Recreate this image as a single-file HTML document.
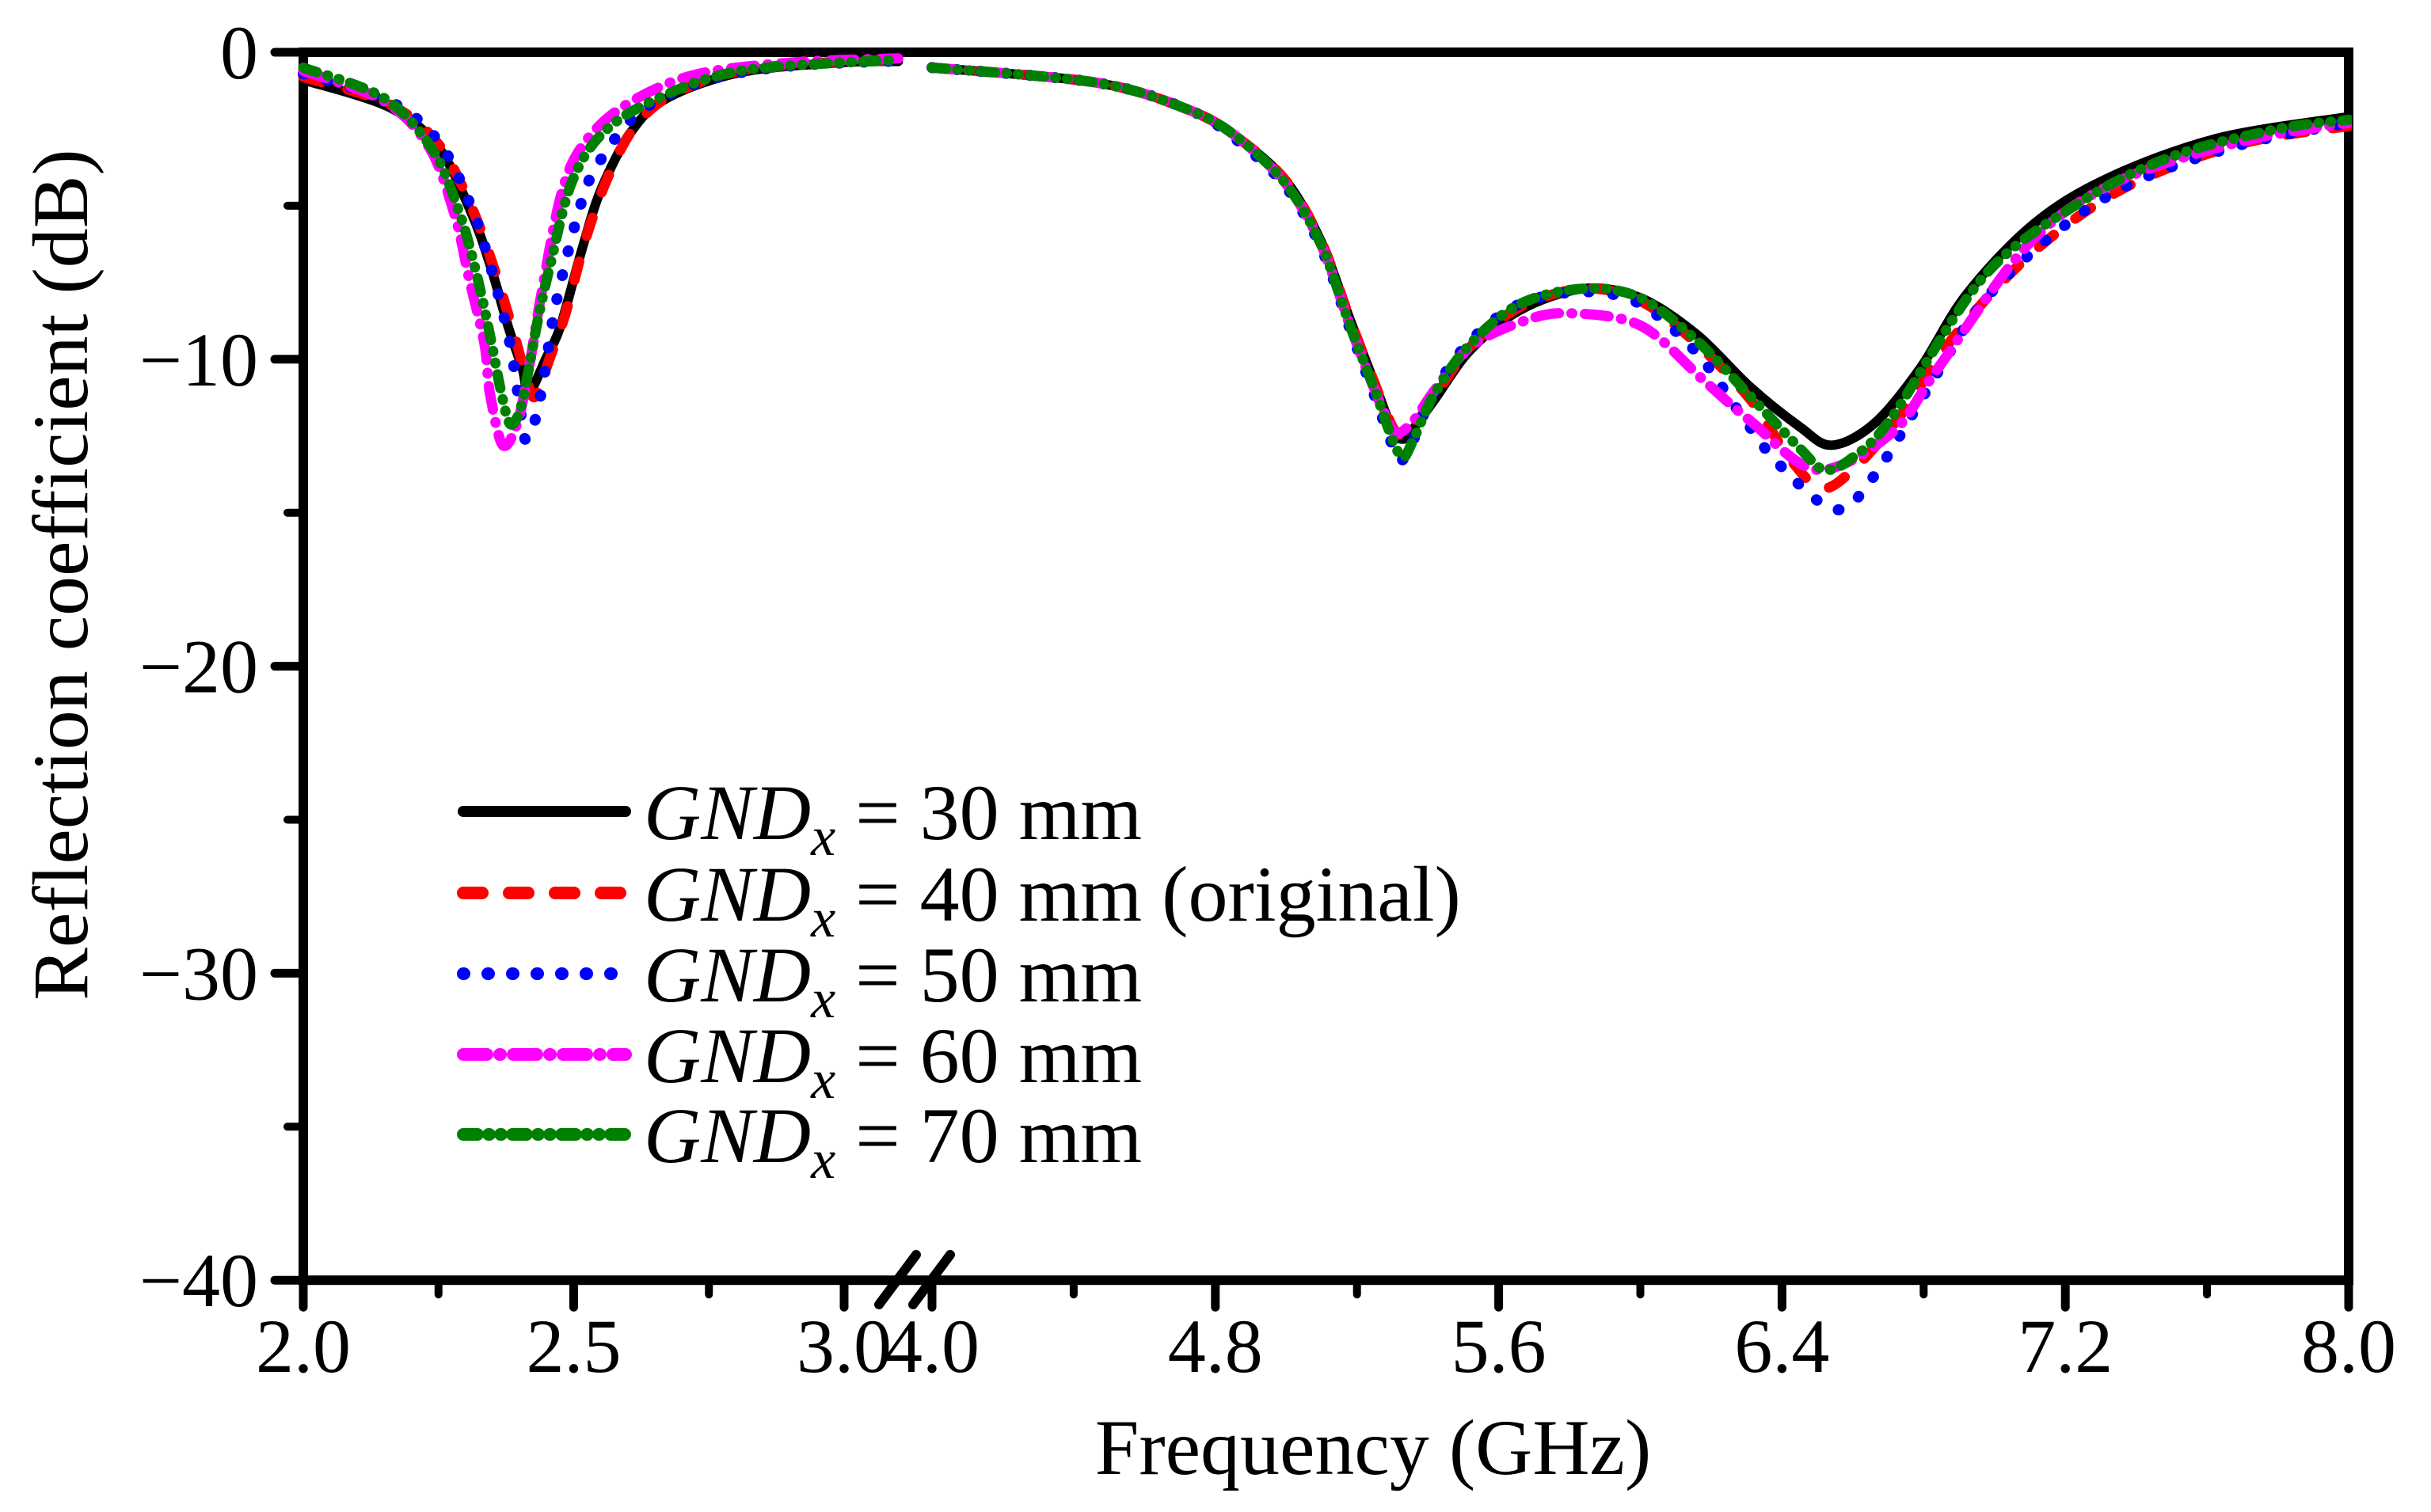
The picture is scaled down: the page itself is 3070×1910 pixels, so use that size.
<!DOCTYPE html>
<html><head><meta charset="utf-8"><style>
html,body{margin:0;padding:0;background:#fff;}
svg{display:block;font-family:"Liberation Serif","Times New Roman",serif;}
</style></head><body>
<svg id="chart" width="3070" height="1910" viewBox="0 0 3070 1910" xmlns="http://www.w3.org/2000/svg">
<defs><clipPath id="clipL"><rect x="370" y="40" width="775" height="1600"/></clipPath><clipPath id="clipR"><rect x="1170" y="40" width="1800" height="1600"/></clipPath></defs>
<g id="axes"></g>
<g id="series"></g>
<g id="legend"></g>
<text x="1734" y="1862" font-size="100" text-anchor="middle">Frequency (GHz)</text>
<text transform="translate(110,726) rotate(-90)" font-size="100" text-anchor="middle">Reflection coefficient (dB)</text>
</svg>
<script>
// x tick labels
const xTicksL = [2.0, 2.5, 3.0];
const xTicksR = [4.0, 4.8, 5.6, 6.4, 7.2, 8.0];
const xMinorL = [2.25, 2.75];
const xMinorR = [4.4, 5.2, 6.0, 6.8, 7.6];
const yTicks = [0, -10, -20, -30, -40];
const yMinor = [-5, -15, -25, -35];
const seriesNames = ["GND30", "GND40", "GND50", "GND60", "GND70"];
const legendLabels = ["30 mm", "40 mm (original)", "50 mm", "60 mm", "70 mm"];
// left segment (2.0–3.1 GHz)
const fL30 = [2.0,2.16,2.25,2.31,2.345,2.38,2.405,2.417,2.448,2.476,2.514,2.55,2.606,2.672,2.81,3.0,3.1];
const vL30 = [-0.9,-1.8,-3.1,-5.2,-6.9,-9.0,-10.3,-11.1,-10.0,-8.9,-6.5,-4.5,-2.6,-1.5,-0.65,-0.33,-0.3];
const fL40 = [2.0,2.16,2.25,2.31,2.35,2.39,2.415,2.43,2.455,2.485,2.52,2.56,2.61,2.68,2.81,3.0,3.1];
const vL40 = [-0.8,-1.7,-3.0,-5.0,-6.9,-9.2,-10.8,-11.2,-10.0,-8.5,-6.2,-4.2,-2.5,-1.4,-0.6,-0.3,-0.28];
const fL50 = [2.0,2.16,2.25,2.31,2.345,2.38,2.4,2.41,2.425,2.444,2.467,2.514,2.55,2.625,2.75,2.9,3.1];
const vL50 = [-0.7,-1.6,-2.9,-5.0,-6.9,-9.3,-11.5,-12.6,-12.2,-10.7,-8.2,-4.9,-3.5,-1.9,-0.9,-0.45,-0.28];
const fL60 = [2.0,2.15,2.233,2.28,2.307,2.335,2.345,2.369,2.397,2.42,2.44,2.476,2.514,2.589,2.72,2.906,3.1];
const vL60 = [-0.6,-1.6,-3.1,-5.3,-7.4,-9.5,-11.1,-12.8,-12.0,-10.0,-7.9,-4.7,-3.1,-1.8,-0.75,-0.33,-0.2];
const fL70 = [2.0,2.15,2.24,2.29,2.32,2.345,2.365,2.382,2.4,2.416,2.435,2.457,2.495,2.55,2.644,2.81,3.1];
const vL70 = [-0.5,-1.5,-3.2,-5.3,-7.2,-9.2,-11.0,-12.1,-11.7,-10.4,-8.6,-6.9,-4.3,-2.7,-1.6,-0.6,-0.25];
// right segment (4.0–8.0 GHz)
const fR30 = [4.0,4.47,4.73,4.865,5.0,5.1,5.18,5.25,5.3,5.325,5.35,5.42,5.52,5.66,5.84,6.0,6.16,6.31,6.45,6.54,6.66,6.79,6.92,7.11,7.32,7.63,8.0];
const vR30 = [-0.5,-1.0,-1.9,-2.8,-4.2,-6.2,-8.7,-10.8,-12.3,-12.6,-12.4,-11.3,-9.7,-8.4,-7.7,-8.0,-9.2,-10.9,-12.2,-12.8,-12.1,-10.3,-7.9,-5.6,-4.1,-2.8,-2.1];
const fR40 = [4.0,4.47,4.73,4.865,5.0,5.1,5.18,5.25,5.3,5.33,5.36,5.42,5.52,5.66,5.84,6.0,6.16,6.31,6.42,6.51,6.6,6.73,6.89,7.11,7.37,7.69,8.0];
const vR40 = [-0.5,-1.0,-1.9,-2.8,-4.2,-6.2,-8.7,-10.8,-12.2,-12.5,-12.2,-11.2,-9.6,-8.3,-7.7,-8.1,-9.5,-11.3,-13.2,-14.2,-13.6,-11.9,-9.2,-6.5,-4.4,-3.0,-2.4];
const fR50 = [4.0,4.47,4.73,4.865,5.0,5.1,5.18,5.25,5.3,5.325,5.36,5.42,5.52,5.66,5.84,6.0,6.16,6.29,6.39,6.55,6.66,6.82,6.97,7.18,7.4,7.7,8.0];
const vR50 = [-0.5,-1.0,-1.9,-2.9,-4.4,-6.4,-9.0,-11.2,-12.8,-13.3,-12.6,-11.0,-9.4,-8.2,-7.8,-8.2,-9.8,-11.9,-13.4,-14.9,-13.8,-10.8,-8.1,-5.8,-4.2,-3.0,-2.3];
const fR60 = [4.0,4.47,4.73,4.865,5.0,5.1,5.18,5.25,5.3,5.32,5.36,5.42,5.52,5.66,5.79,6.0,6.18,6.31,6.5,6.71,6.84,7.1,7.35,7.7,8.0];
const vR60 = [-0.5,-1.0,-1.9,-2.8,-4.3,-6.3,-8.9,-11.0,-12.3,-12.4,-12.0,-11.0,-9.6,-8.8,-8.5,-8.9,-10.7,-12.0,-13.6,-12.4,-10.3,-6.2,-4.2,-2.9,-2.3];
const fR70 = [4.0,4.47,4.73,4.865,5.0,5.1,5.18,5.25,5.3,5.33,5.36,5.42,5.52,5.66,5.84,6.0,6.16,6.31,6.45,6.52,6.6,6.71,6.97,7.24,7.5,7.8,8.0];
const vR70 = [-0.5,-1.0,-1.9,-2.8,-4.3,-6.3,-8.9,-11.0,-12.6,-13.2,-12.6,-11.1,-9.5,-8.2,-7.7,-8.0,-9.4,-11.2,-12.9,-13.6,-13.2,-11.9,-7.3,-4.9,-3.4,-2.5,-2.2];

const NS = "http://www.w3.org/2000/svg";
const X0 = 383, XL_PER = 683, XR0 = 1177, XR_PER = 447.25;
const Y0 = 66, Y_PER = 38.78;
function xs(f){ return f <= 3.5 ? X0 + (f - 2) * XL_PER : XR0 + (f - 4) * XR_PER; }
function ys(v){ return Y0 - v * Y_PER; }
function mk(tag, attrs, parent){ const e = document.createElementNS(NS, tag); for (const k in attrs) e.setAttribute(k, attrs[k]); parent.appendChild(e); return e; }

const axes = document.getElementById('axes');
const YB = ys(-40), XE = xs(8);
// ticks
[...xTicksL, ...xTicksR].forEach(t => {
  const l = mk('line', {x1: xs(t), x2: xs(t), y1: YB, y2: YB + 34, stroke: '#000', 'stroke-width': 11, 'stroke-linecap': 'round'}, axes);
  
  
  const tx = mk('text', {x: xs(t), y: 1733, 'font-size': 96, 'text-anchor': 'middle'}, axes);
  tx.textContent = t.toFixed(1);
  
  
});
[...xMinorL, ...xMinorR].forEach(t => {
  const l = mk('line', {x1: xs(t), x2: xs(t), y1: YB, y2: YB + 18, stroke: '#000', 'stroke-width': 10, 'stroke-linecap': 'round'}, axes);
  
  
});
yTicks.forEach(t => {
  const l = mk('line', {x1: X0 - 36, x2: X0, y1: ys(t), y2: ys(t), stroke: '#000', 'stroke-width': 11, 'stroke-linecap': 'round'}, axes);
  
  
  const tx = mk('text', {x: 326, y: ys(t) + 33, 'font-size': 96, 'text-anchor': 'end'}, axes);
  tx.textContent = t === 0 ? '0' : '\u2212' + Math.abs(t);
  
  
});
yMinor.forEach(t => {
  const l = mk('line', {x1: X0 - 20, x2: X0, y1: ys(t), y2: ys(t), stroke: '#000', 'stroke-width': 10, 'stroke-linecap': 'round'}, axes);
  
  
});
const frame = mk('rect', {x: X0, y: Y0, width: XE - X0, height: YB - Y0, fill: 'none', stroke: '#000', 'stroke-width': 12}, axes);


[[1110, 1157], [1153, 1200]].forEach(p => {
  const s = mk('line', {x1: p[0], y1: 1648, x2: p[1], y2: 1585, stroke: '#000', 'stroke-width': 12, 'stroke-linecap': 'round'}, axes);
  
  
});

function pathFrom(fs, vs){
  const pts = fs.map((f, i) => [xs(f), ys(vs[i])]);
  let d = 'M' + pts[0][0].toFixed(1) + ',' + pts[0][1].toFixed(1);
  for (let i = 0; i < pts.length - 1; i++) {
    const p0 = pts[Math.max(0, i - 1)], p1 = pts[i], p2 = pts[i + 1], p3 = pts[Math.min(pts.length - 1, i + 2)];
    const t = 0.16;
    const c1 = [p1[0] + (p2[0] - p0[0]) * t, p1[1] + (p2[1] - p0[1]) * t];
    const c2 = [p2[0] - (p3[0] - p1[0]) * t, p2[1] - (p3[1] - p1[1]) * t];
    d += ' C' + c1[0].toFixed(1) + ',' + c1[1].toFixed(1) + ' ' + c2[0].toFixed(1) + ',' + c2[1].toFixed(1) + ' ' + p2[0].toFixed(1) + ',' + p2[1].toFixed(1);
  }
  return d;
}
const styles = [
  {color: '#000000', dash: 'none', w: 12},
  {color: '#ff0000', dash: '24 34', w: 13},
  {color: '#0000ff', dash: '1 30', w: 14},
  {color: '#ff00ff', dash: '30 16 1 16', w: 13},
  {color: '#008000', dash: '18 14 1 14 1 14', w: 13}
];
const dataL = [[fL30, vL30], [fL40, vL40], [fL50, vL50], [fL60, vL60], [fL70, vL70]];
const dataR = [[fR30, vR30], [fR40, vR40], [fR50, vR50], [fR60, vR60], [fR70, vR70]];
const sg = document.getElementById('series');
styles.forEach((st, i) => {
  [[dataL[i], 'url(#clipL)', 'left'], [dataR[i], 'url(#clipR)', 'right']].forEach(seg => {
    const p = mk('path', {d: pathFrom(seg[0][0], seg[0][1]), fill: 'none', stroke: st.color, 'stroke-width': st.w, 'stroke-dasharray': st.dash, 'stroke-linecap': 'round', 'stroke-linejoin': 'round', 'clip-path': seg[1]}, sg);
    
    
  });
});
// legend
const lg = document.getElementById('legend');
const rowY = [1025, 1128, 1230, 1332, 1433];
styles.forEach((st, i) => {
  const l = mk('line', {x1: 585, x2: 790, y1: rowY[i], y2: rowY[i], stroke: st.color, 'stroke-width': i === 0 ? 14 : 16, 'stroke-dasharray': st.dash, 'stroke-linecap': 'round'}, lg);
  
  
  const t = mk('text', {x: 813, y: rowY[i] + 35, 'font-size': 100}, lg);
  
  
  const a = mk('tspan', {'font-style': 'italic'}, t); a.textContent = 'GND';
  const b = mk('tspan', {'font-style': 'italic', 'font-size': 70, dy: 20}, t); b.textContent = 'x';
  const c = mk('tspan', {dy: -20}, t); c.textContent = ' = ' + legendLabels[i];
});
</script>
</body></html>
